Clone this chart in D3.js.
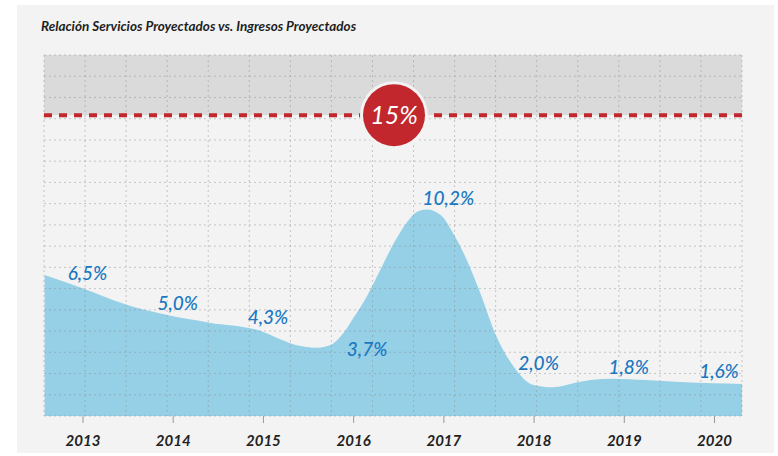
<!DOCTYPE html>
<html lang="es">
<head>
<meta charset="UTF-8">
<title>Relación Servicios Proyectados vs. Ingresos Proyectados</title>
<script src="https://d3js.org/d3.v7.min.js"></script>
<style>
  body { margin: 0; background: #fff; }
  text { font-family: Lato, "Open Sans", sans-serif; }
</style>
</head>
<body>
<svg id="chart" width="778" height="456"></svg>
<script>
// data
const years = [2013, 2014, 2015, 2016, 2017, 2018, 2019, 2020];
const values = [6.5, 5.0, 4.3, 3.7, 10.2, 2.0, 1.8, 1.6];
const valueLabels = ["6,5%", "5,0%", "4,3%", "3,7%", "10,2%", "2,0%", "1,8%", "1,6%"];
const limit = 15;
const limitLabel = "15%";
// outline of the filled area as drawn in the picture (fractional year, %)
const profileYear = [2012.58, 2013.0, 2013.5, 2013.94, 2014.41, 2014.97, 2015.31, 2015.42, 2015.6, 2015.77,
  2015.89, 2016.0, 2016.15, 2016.3, 2016.45, 2016.6, 2016.71, 2016.82, 2016.97, 2017.11,
  2017.26, 2017.41, 2017.59, 2017.78, 2018.0, 2018.22, 2018.44, 2018.63, 2018.88, 2019.25,
  2019.62, 2019.99, 2020.31];
const profileValue = [7.03, 6.37, 5.53, 5.03, 4.65, 4.25, 3.62, 3.49, 3.4, 3.59,
  4.12, 4.87, 5.95, 7.28, 8.61, 9.69, 10.19, 10.3, 10.02, 9.1,
  7.78, 6.12, 3.95, 2.46, 1.55, 1.43, 1.63, 1.79, 1.86, 1.79,
  1.69, 1.63, 1.6];

const svg = d3.select("#chart");
const plotLeft = 44, plotRight = 742, plotTop = 55, plotBottom = 416;

// panel
svg.append("rect")
  .attr("x", 17).attr("y", 5)
  .attr("width", 757).attr("height", 448)
  .attr("fill", "#f3f3f3");

svg.append("text")
  .attr("x", 41).attr("y", 31)
  .attr("font-size", 13.5)
  .attr("font-weight", "bold")
  .attr("font-style", "italic")
  .attr("fill", "#1e1e1e")
  .text("Relación Servicios Proyectados vs. Ingresos Proyectados");

const x = d3.scaleLinear().domain([2013, 2020]).range([82.5, 714]);
const y = d3.scaleLinear().domain([0, 18]).range([plotBottom, plotTop]);

// band above the limit
svg.append("rect")
  .attr("x", plotLeft).attr("y", plotTop)
  .attr("width", plotRight - plotLeft).attr("height", y(limit) - plotTop)
  .attr("fill", "#dadada");

// area
const profile = profileYear.map((d, i) => ({ x: d, v: profileValue[i] }));
const area = d3.area()
  .x(d => Math.max(plotLeft, Math.min(plotRight, x(d.x))))
  .y0(plotBottom)
  .y1(d => y(d.v))
  .curve(d3.curveMonotoneX);

svg.append("path")
  .datum(profile)
  .attr("d", area)
  .attr("fill", "#96d0e6");

// grid
const grid = svg.append("g")
  .attr("stroke", "rgba(140,140,140,0.45)")
  .attr("stroke-width", 1)
  .attr("stroke-dasharray", "2,3");
d3.range(18).forEach(i => {
  const gx = plotLeft + (plotRight - plotLeft) * i / 17;
  grid.append("line").attr("x1", gx).attr("x2", gx).attr("y1", plotTop).attr("y2", plotBottom);
  const gy = plotTop + (plotBottom - plotTop) * i / 17;
  grid.append("line").attr("x1", plotLeft).attr("x2", plotRight).attr("y1", gy).attr("y2", gy);
});

// x axis
const xAxis = svg.append("g")
  .attr("transform", `translate(0,${plotBottom})`)
  .call(d3.axisBottom(x).tickValues(years).tickFormat(d3.format("d")).tickSize(7).tickPadding(12));
xAxis.select(".domain").remove();
xAxis.selectAll(".tick line").attr("stroke", "#999");
xAxis.selectAll(".tick text")
  .attr("font-family", "Lato, sans-serif")
  .attr("font-size", 15)
  .attr("font-weight", "bold")
  .attr("font-style", "italic")
  .attr("fill", "#222");

// value labels
svg.append("g").selectAll("text")
  .data(years)
  .join("text")
  .attr("x", (d, i) => x(d) + (d === 2016 ? 14 : 5))
  .attr("y", (d, i) => y(values[i]) + (d === 2016 ? 14 : -6))
  .attr("text-anchor", "middle")
  .attr("font-size", 19)
  .attr("font-weight", 500)
  .attr("font-style", "italic")
  .attr("fill", "#1a78c2")
  .text((d, i) => valueLabels[i]);

// limit line
svg.append("line")
  .attr("x1", plotLeft).attr("x2", plotRight)
  .attr("y1", y(limit)).attr("y2", y(limit))
  .attr("stroke", "#c1272d")
  .attr("stroke-width", 4)
  .attr("stroke-dasharray", "8,7");

const cx = 394;
svg.append("circle")
  .attr("cx", cx).attr("cy", y(limit))
  .attr("r", 34)
  .attr("fill", "#f3f3f3");
svg.append("circle")
  .attr("cx", cx).attr("cy", y(limit))
  .attr("r", 31)
  .attr("fill", "#c1272d");
svg.append("text")
  .attr("x", cx).attr("y", y(limit) + 9)
  .attr("text-anchor", "middle")
  .attr("font-size", 25)
  .attr("font-style", "italic")
  .attr("fill", "#fff")
  .text(limitLabel);
</script>
</body>
</html>
